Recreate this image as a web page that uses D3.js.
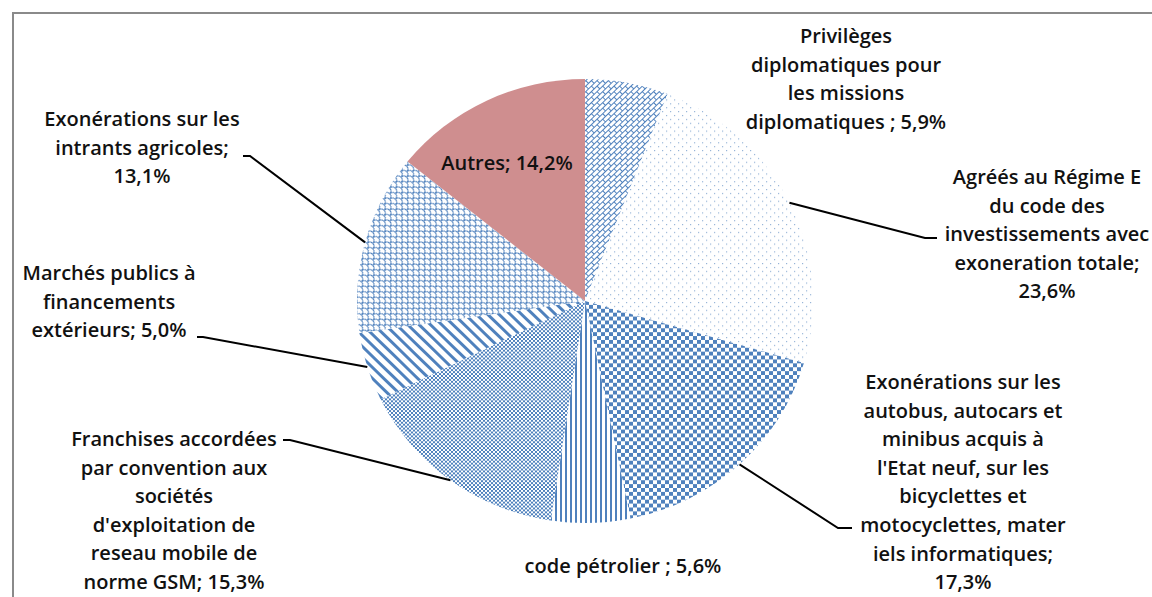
<!DOCTYPE html>
<html>
<head>
<meta charset="utf-8">
<script src="https://cdn.jsdelivr.net/npm/d3@7"></script>
<style>
  body { margin: 0; background: #fff; }
  text { font-family: "Open Sans", Lato, sans-serif; font-size: 20px; font-weight: 600; fill: #111; }
</style>
</head>
<body>
<div id="canvas"></div>
<script>
// data
const categories = [
  "Privilèges diplomatiques pour les missions diplomatiques",
  "Agréés au Régime E du code des investissements avec exoneration totale",
  "Exonérations sur les autobus, autocars et minibus acquis à l'Etat neuf, sur les bicyclettes et motocyclettes, materiels informatiques",
  "code pétrolier",
  "Franchises accordées par convention aux sociétés d'exploitation de reseau mobile de norme GSM",
  "Marchés publics à financements extérieurs",
  "Exonérations sur les intrants agricoles",
  "Autres"
];
const values = [5.9, 23.6, 17.3, 5.6, 15.3, 5.0, 13.1, 14.2];
const valueLabels = ["5,9%", "23,6%", "17,3%", "5,6%", "15,3%", "5,0%", "13,1%", "14,2%"];
const labelLines = [
  ["Privilèges", "diplomatiques pour", "les missions", "diplomatiques ; 5,9%"],
  ["Agréés au Régime E", "du code des", "investissements avec", "exoneration totale;", "23,6%"],
  ["Exonérations sur les", "autobus, autocars et", "minibus acquis à", "l'Etat neuf, sur les", "bicyclettes et", "motocyclettes, mater", "iels informatiques;", "17,3%"],
  ["code pétrolier ; 5,6%"],
  ["Franchises accordées", "par convention aux", "sociétés", "d'exploitation de", "reseau mobile de", "norme GSM; 15,3%"],
  ["Marchés publics à", "financements", "extérieurs; 5,0%"],
  ["Exonérations sur les", "intrants agricoles;", "13,1%"],
  ["Autres; 14,2%"]
];

const width = 1152, height = 597;
const cx = 585, cy = 301, R = 228, yScale = 0.974;
const blue = "#4f81bd";
const lineH = 28.6;

// label layout: centre x, first line centre y, leader elbow & end (null = no leader)
const labelPos = [
  { x: 846, y: 35, leader: null },
  { x: 1047, y: 176, leader: [[925, 238], [937, 238]] },
  { x: 963, y: 381, leader: [[838, 528], [852, 528]] },
  { x: 623, y: 565, leader: null },
  { x: 174, y: 438, leader: [[290, 440], [283, 440]] },
  { x: 109, y: 272, leader: [[203, 337], [197, 337]] },
  { x: 142, y: 118, leader: [[250, 156], [243, 156]] },
  { x: 507, y: 162, leader: null }
];

const svg = d3.select("#canvas")
  .append("svg")
  .attr("width", width)
  .attr("height", height);

const defs = svg.append("defs");

function pattern(id, w, h, transform) {
  const p = defs.append("pattern")
    .attr("id", id)
    .attr("patternUnits", "userSpaceOnUse")
    .attr("width", w)
    .attr("height", h);
  if (transform) p.attr("patternTransform", transform);
  p.append("rect").attr("width", w).attr("height", h).attr("fill", "#fff");
  return p;
}

// diagonal brick
const pBrick = pattern("p0", 8, 8, "rotate(-45)");
pBrick.append("path")
  .attr("d", "M0,0.5H8M0,4.5H8M0.5,0.5V4.5M4.5,4.5V8.5")
  .attr("stroke", blue).attr("stroke-width", 1).attr("fill", "none");

// sparse dots
const pDots = pattern("p1", 8, 8);
pDots.append("rect").attr("x", 1).attr("y", 1).attr("width", 1.2).attr("height", 1.2).attr("fill", blue).attr("opacity", 0.6);
pDots.append("rect").attr("x", 5).attr("y", 5).attr("width", 1.2).attr("height", 1.2).attr("fill", blue).attr("opacity", 0.6);

// large checkerboard
const pBig = pattern("p2", 8, 8);
pBig.append("rect").attr("width", 4).attr("height", 4).attr("fill", blue);
pBig.append("rect").attr("x", 4).attr("y", 4).attr("width", 4).attr("height", 4).attr("fill", blue);

// narrow vertical lines
const pVert = pattern("p3", 5, 5);
pVert.append("rect").attr("width", 2).attr("height", 5).attr("fill", blue);

// small checkerboard
const pSmall = pattern("p4", 4, 4);
pSmall.append("rect").attr("width", 2).attr("height", 2).attr("fill", blue);
pSmall.append("rect").attr("x", 2).attr("y", 2).attr("width", 2).attr("height", 2).attr("fill", blue);

// wide downward diagonal
const pDiag = pattern("p5", 8, 8, "rotate(-45)");
pDiag.append("rect").attr("width", 3).attr("height", 8).attr("fill", blue);

// shingles
const pShingle = pattern("p6", 8, 8, "rotate(45)");
pShingle.append("path")
  .attr("d", "M0,4A4,4 0 0 1 8,4M-4,8A4,4 0 0 1 4,8M4,8A4,4 0 0 1 12,8M-4,0A4,4 0 0 1 4,0M4,0A4,4 0 0 1 12,0")
  .attr("stroke", blue).attr("stroke-width", 1).attr("fill", "none");

const fills = ["url(#p0)", "url(#p1)", "url(#p2)", "url(#p3)", "url(#p4)", "url(#p5)", "url(#p6)", "#cf8e8f"];

// chart frame
svg.append("rect")
  .attr("x", 13)
  .attr("y", 13)
  .attr("width", width)
  .attr("height", height)
  .attr("fill", "none")
  .attr("stroke", "#8a8a8a")
  .attr("stroke-width", 2);

const pie = d3.pie().sort(null).value(d => d);
const arcs = pie(values);
const arc = d3.arc().innerRadius(0).outerRadius(R);

const graph = svg.append("g")
  .attr("transform", `translate(${cx}, ${cy}) scale(1, ${yScale})`);

graph.selectAll("path")
  .data(arcs)
  .enter()
  .append("path")
  .attr("d", arc)
  .attr("fill", (d, i) => fills[i]);

// leader lines
arcs.forEach((d, i) => {
  const pos = labelPos[i];
  if (!pos.leader) return;
  const a = (d.startAngle + d.endAngle) / 2;
  const start = [cx + Math.sin(a) * R, cy - Math.cos(a) * R * yScale];
  svg.append("path")
    .attr("d", d3.line()([start, ...pos.leader]))
    .attr("fill", "none")
    .attr("stroke", "#000")
    .attr("stroke-width", 2);
});

// labels
labelLines.forEach((lines, i) => {
  const pos = labelPos[i];
  const t = svg.append("text")
    .attr("text-anchor", "middle")
    .attr("dominant-baseline", "central");
  lines.forEach((line, j) => {
    t.append("tspan")
      .attr("x", pos.x)
      .attr("y", pos.y + j * lineH)
      .text(line);
  });
});
</script>
</body>
</html>
